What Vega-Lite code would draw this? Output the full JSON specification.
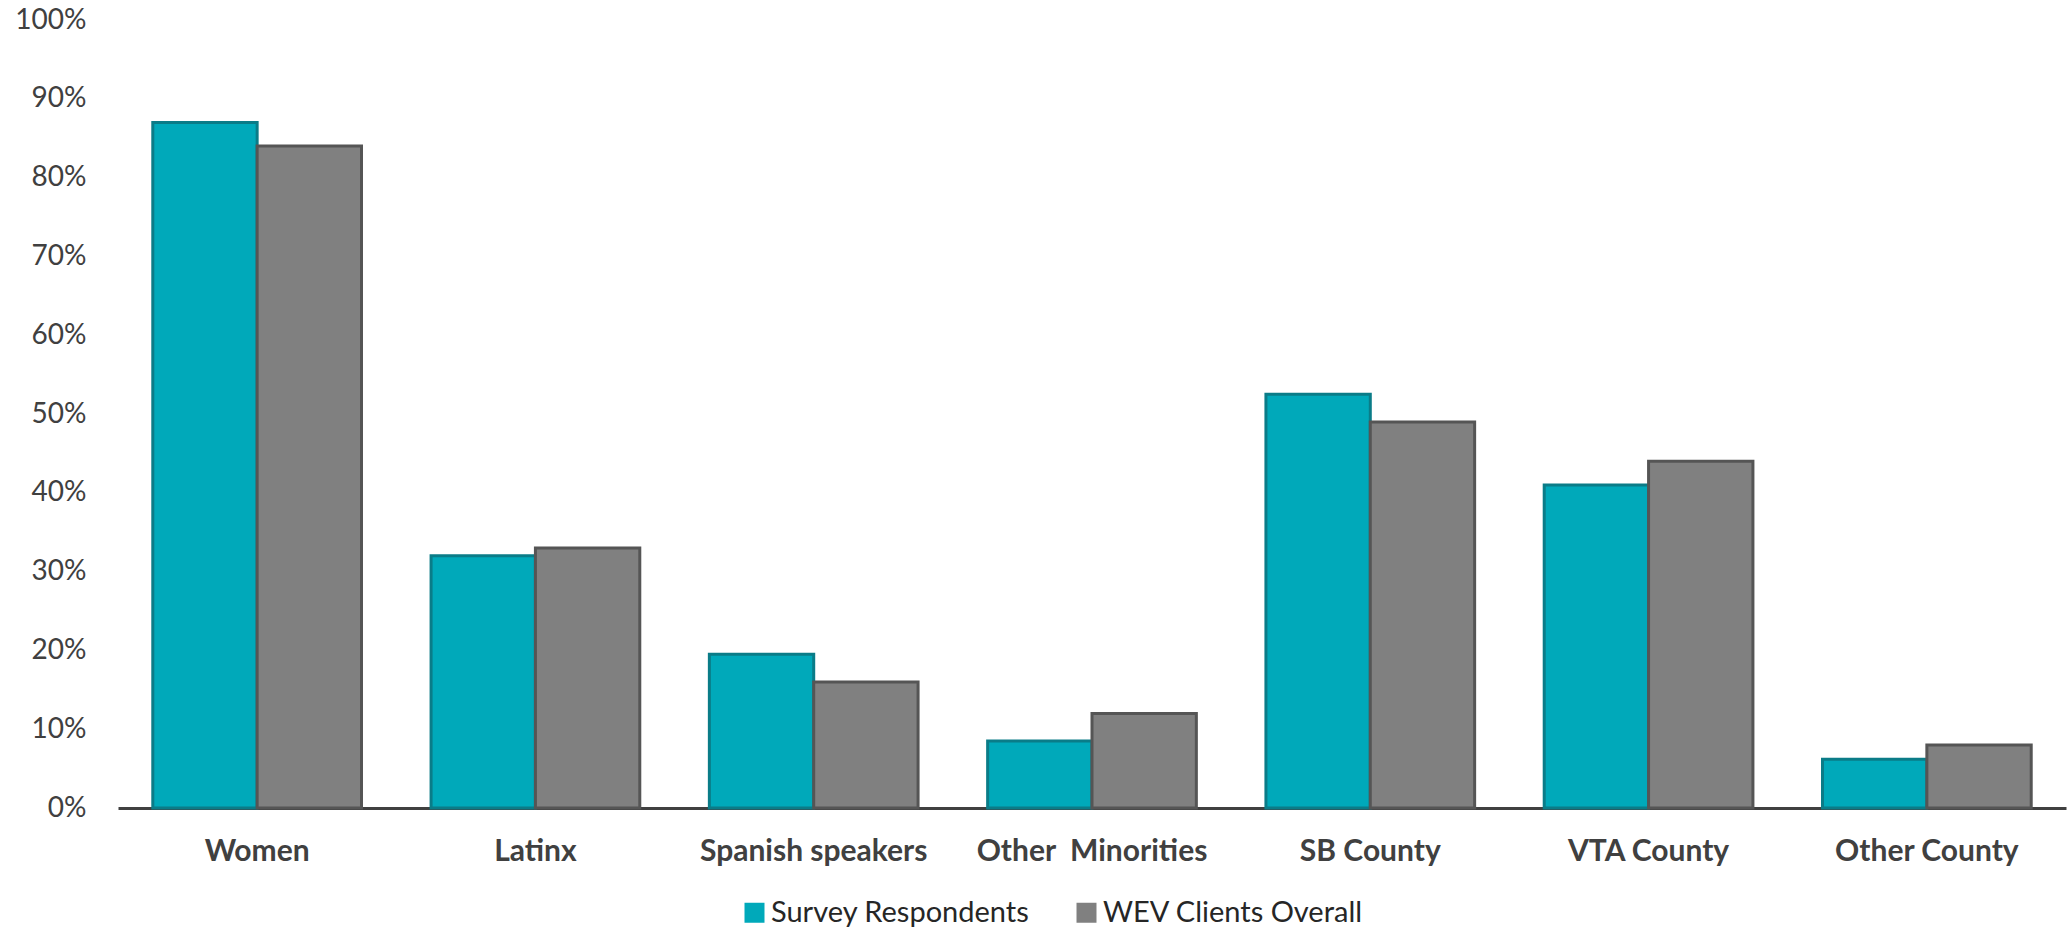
{
  "$schema": "https://vega.github.io/schema/vega-lite/v6.json",
  "width": 1948,
  "height": 788,
  "autosize": {"type": "none"},
  "padding": {"left": 118, "top": 20, "right": 2, "bottom": 122},
  "background": "white",
  "config": {
    "view": {"stroke": null},
    "font": "Lato",
    "axis": {"grid": false, "ticks": false, "labelFont": "Lato", "labelColor": "#404040"},
    "legend": {"labelFont": "Lato"}
  },
  "data": {
    "values": [
      {"category": "Women", "series": "Survey Respondents", "value": 0.87},
      {"category": "Women", "series": "WEV Clients Overall", "value": 0.84},
      {"category": "Latinx", "series": "Survey Respondents", "value": 0.32},
      {"category": "Latinx", "series": "WEV Clients Overall", "value": 0.33},
      {"category": "Spanish speakers", "series": "Survey Respondents", "value": 0.195},
      {"category": "Spanish speakers", "series": "WEV Clients Overall", "value": 0.16},
      {"category": "Other \u00a0Minorities", "series": "Survey Respondents", "value": 0.085},
      {"category": "Other \u00a0Minorities", "series": "WEV Clients Overall", "value": 0.12},
      {"category": "SB County", "series": "Survey Respondents", "value": 0.525},
      {"category": "SB County", "series": "WEV Clients Overall", "value": 0.49},
      {"category": "VTA County", "series": "Survey Respondents", "value": 0.41},
      {"category": "VTA County", "series": "WEV Clients Overall", "value": 0.44},
      {"category": "Other County", "series": "Survey Respondents", "value": 0.062},
      {"category": "Other County", "series": "WEV Clients Overall", "value": 0.08}
    ]
  },
  "mark": {"type": "bar", "strokeWidth": 3},
  "encoding": {
    "x": {
      "field": "category",
      "type": "nominal",
      "sort": null,
      "title": null,
      "scale": {"paddingInner": 0.25, "paddingOuter": 0.125},
      "axis": {
        "domain": true,
        "domainColor": "#404040",
        "domainWidth": 3,
        "labelAngle": 0,
        "labelFontSize": 30,
        "labelFontWeight": "bold",
        "labelPadding": 28,
        "labelLimit": 0,
        "labelColor": "#404040"
      }
    },
    "xOffset": {
      "field": "series",
      "type": "nominal",
      "sort": ["Survey Respondents", "WEV Clients Overall"],
      "scale": {"paddingInner": 0, "paddingOuter": 0}
    },
    "y": {
      "field": "value",
      "type": "quantitative",
      "title": null,
      "scale": {"domain": [0, 1], "nice": false},
      "axis": {
        "domain": false,
        "values": [0, 0.1, 0.2, 0.3, 0.4, 0.5, 0.6, 0.7, 0.8, 0.9, 1],
        "format": ".0%",
        "labelFontSize": 28,
        "labelPadding": 32,
        "labelColor": "#404040"
      }
    },
    "color": {
      "field": "series",
      "type": "nominal",
      "scale": {"domain": ["Survey Respondents", "WEV Clients Overall"], "range": ["#00A9BA", "#808080"]},
      "legend": {
        "title": null,
        "orient": "none",
        "direction": "horizontal",
        "legendX": 622,
        "legendY": 878,
        "symbolType": "square",
        "symbolSize": 400,
        "symbolStrokeWidth": 0,
        "labelFontSize": 29,
        "labelLimit": 0,
        "labelColor": "#262626",
        "labelOffset": 2,
        "columnPadding": 42
      }
    },
    "stroke": {
      "field": "series",
      "type": "nominal",
      "scale": {"domain": ["Survey Respondents", "WEV Clients Overall"], "range": ["#0A7C88", "#555555"]},
      "legend": null
    }
  }
}
